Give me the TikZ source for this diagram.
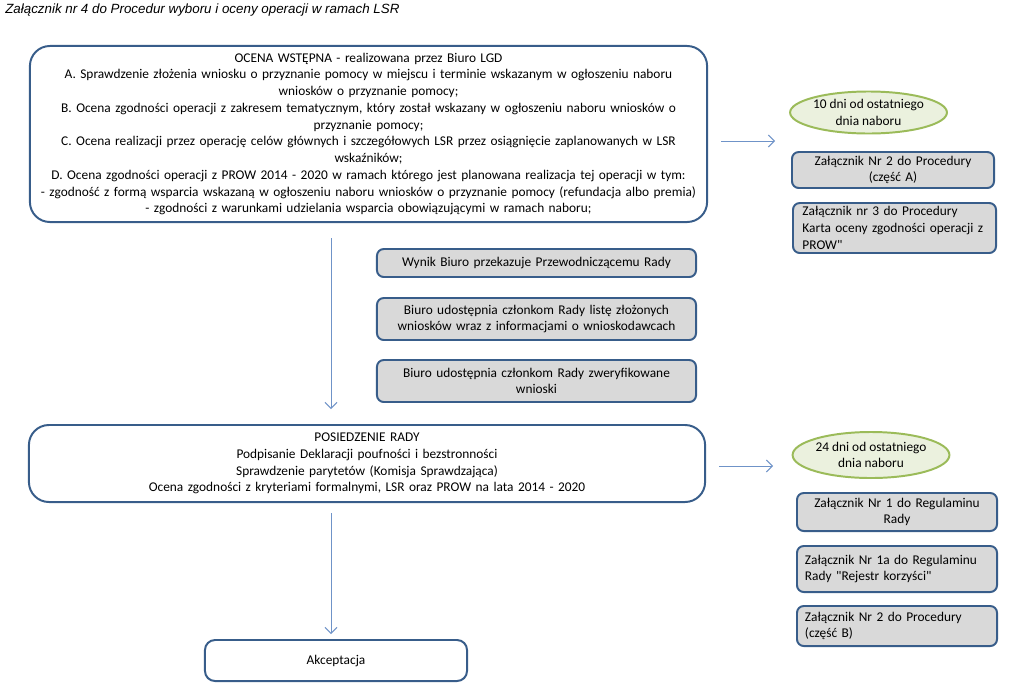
\documentclass[tikz,border=0pt]{standalone}
\usepackage{fontspec}
\setmainfont{Carlito}[Ligatures=TeXOff]
\newfontfamily\tytulfont{Liberation Sans}
\usepackage{tikz}
\usetikzlibrary{arrows.meta}
\usetikzlibrary{shapes.geometric}
\definecolor{ramka}{HTML}{385D8A}
\definecolor{strzalka}{HTML}{6F93C8}
\definecolor{szary}{HTML}{D9D9D9}
\definecolor{oliwka}{HTML}{9BBB59}
\definecolor{zielen}{HTML}{EBF1DE}

\begin{document}
\begin{tikzpicture}[x=0.025cm,y=-0.025cm,font=\fontsize{9.5}{11.9}\selectfont]
  \tikzstyle{etap}=[draw=ramka,line width=1.4pt,fill=white,rounded corners=0.5cm,align=center,inner sep=0pt]
  \tikzstyle{krok}=[draw=ramka,line width=1.4pt,fill=szary,rounded corners=0.17cm,align=center,inner sep=0pt,minimum width=7.975cm,text width=7.6cm]
  \tikzstyle{zal}=[krok,minimum width=5cm,text width=4.6cm]
  \tikzstyle{zallewy}=[zal,align=left,text width=4.6cm]
  \tikzstyle{termin}=[draw=oliwka,line width=1.4pt,fill=zielen,ellipse,align=center,inner sep=0pt]
  \tikzstyle{arr}=[draw=strzalka,line width=0.7pt,-{Straight Barb[length=0.15cm,width=0.3cm]}]
  \useasboundingbox (0,0) rectangle (1023,691);
  \node[anchor=west,inner sep=0pt,font=\tytulfont\itshape\fontsize{9.5}{11}\selectfont] (tytul) at (5,10)
    {Załącznik nr 4 do Procedur wyboru i oceny operacji w ramach LSR};
  % lewa kolumna
  \node[etap,minimum width=16.925cm,minimum height=4.4cm,text width=16.5cm] (ocena) at (368.5,134)
    {OCENA WSTĘPNA - realizowana przez Biuro LGD\\
     A. Sprawdzenie złożenia wniosku o przyznanie pomocy w miejscu i terminie wskazanym w ogłoszeniu naboru\\
     wniosków o przyznanie pomocy;\\
     B. Ocena zgodności operacji z zakresem tematycznym, który został wskazany w ogłoszeniu naboru wniosków o\\
     przyznanie pomocy;\\
     C. Ocena realizacji przez operację celów głównych i szczegółowych LSR przez osiągnięcie zaplanowanych w LSR\\
     wskaźników;\\
     D. Ocena zgodności operacji z PROW 2014 - 2020 w ramach którego jest planowana realizacja tej operacji w tym:\\
     - zgodność z formą wsparcia wskazaną w ogłoszeniu naboru wniosków o przyznanie pomocy (refundacja albo premia)\\
     - zgodności z warunkami udzielania wsparcia obowiązującymi w ramach naboru;};
  \node[krok,minimum height=0.7cm] (wynik) at (536.5,263) {Wynik Biuro przekazuje Przewodniczącemu Rady};
  \node[krok,minimum height=1.05cm] (lista) at (536.5,319)
    {Biuro udostępnia członkom Rady listę złożonych\\wniosków wraz z informacjami o wnioskodawcach};
  \node[krok,minimum height=1.05cm] (wnioski) at (536.5,381)
    {Biuro udostępnia członkom Rady zweryfikowane\\wnioski};
  \node[etap,minimum width=16.9cm,minimum height=1.925cm,text width=16.5cm] (rada) at (367,463.5)
    {POSIEDZENIE RADY\\
     Podpisanie Deklaracji poufności i bezstronności\\
     Sprawdzenie parytetów (Komisja Sprawdzająca)\\
     Ocena zgodności z kryteriami formalnymi, LSR oraz PROW na lata 2014 - 2020};
  \node[etap,rounded corners=0.25cm,minimum width=6.55cm,minimum height=1.025cm] (akcept) at (336,660.5) {Akceptacja};
  % prawa kolumna
  \node[termin,minimum width=3.725cm,minimum height=1.05cm] (termin1) at (868.5,112.5)
    {10 dni od ostatniego\\dnia naboru};
  \node[zal,minimum width=5.05cm,minimum height=0.9cm] (zal2a) at (893,170)
    {Załącznik Nr 2 do Procedury\\(część A)};
  \node[zallewy,minimum width=5.075cm,minimum height=1.25cm] (zal3) at (894.5,228)
    {Załącznik nr 3 do Procedury\\Karta oceny zgodności operacji z\\PROW"};
  \node[termin,minimum width=3.7cm,minimum height=1.15cm] (termin2) at (871,455)
    {24 dni od ostatniego\\dnia naboru};
  \node[zal,minimum height=0.95cm] (zal1) at (897,512)
    {Załącznik Nr 1 do Regulaminu\\Rady};
  \node[zallewy,minimum height=1.15cm] (zal1a) at (897,569)
    {Załącznik Nr 1a do Regulaminu\\Rady "Rejestr korzyści"};
  \node[zallewy,minimum height=1cm] (zal2b) at (897,626)
    {Załącznik Nr 2 do Procedury\\(część B)};
  % strzalki
  \coordinate (pion) at (331,0);
  \coordinate (cel1) at (775,141);
  \coordinate (cel2) at (773,466);
  \draw[arr,shorten <=0.375cm,shorten >=0.375cm] (ocena.south -| pion) -- (rada.north -| pion);
  \draw[arr,shorten <=0.25cm,shorten >=0.125cm] (rada.south -| pion) -- (akcept.north -| pion);
  \draw[arr,shorten <=0.325cm] (ocena.east |- cel1) -- (cel1);
  \draw[arr,shorten <=0.325cm] (rada.east |- cel2) -- (cel2);
\end{tikzpicture}
\end{document}
